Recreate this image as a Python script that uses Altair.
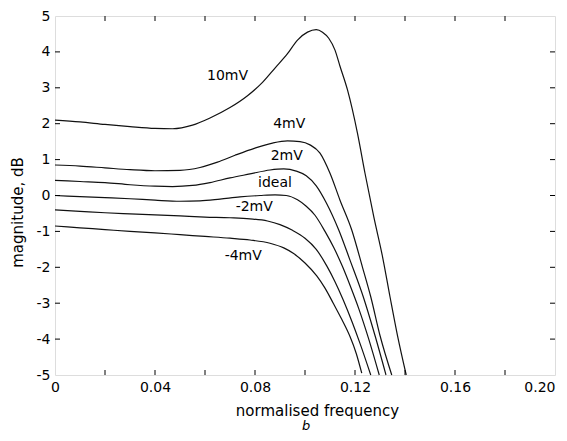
import altair as alt
import pandas as pd

# ---- data ----
x_10mV = [0, 0.01, 0.02, 0.03, 0.04, 0.047, 0.055, 0.062, 0.07, 0.077, 0.083, 0.088, 0.093, 0.097,
          0.101, 0.1045, 0.107, 0.1095, 0.112, 0.114, 0.117, 0.121, 0.124, 0.1275, 0.131, 0.134, 0.137, 0.1405]
y_10mV = [2.10, 2.05, 1.98, 1.92, 1.87, 1.86, 1.96, 2.16, 2.45, 2.78, 3.15, 3.55, 3.95, 4.33,
          4.55, 4.62, 4.55, 4.38, 4.05, 3.60, 2.94, 1.73, 0.62, -0.59, -1.70, -2.82, -3.90, -5.0]

x_4mV = [0, 0.01, 0.02, 0.03, 0.04, 0.05, 0.058, 0.065, 0.072, 0.08, 0.087, 0.093, 0.098, 0.102,
         0.106, 0.11, 0.114, 0.1187, 0.123, 0.1263, 0.13, 0.1347]
y_4mV = [0.85, 0.82, 0.77, 0.72, 0.69, 0.70, 0.78, 0.93, 1.12, 1.32, 1.46, 1.52, 1.50, 1.41,
         1.18, 0.62, -0.13, -0.96, -2.0, -2.82, -3.9, -5.0]

x_2mV = [0, 0.01, 0.02, 0.03, 0.04, 0.047, 0.055, 0.062, 0.07, 0.078, 0.086, 0.0915, 0.0965,
         0.1005, 0.1045, 0.1085, 0.1135, 0.118, 0.1233, 0.128, 0.1324]
y_2mV = [0.42, 0.39, 0.36, 0.30, 0.26, 0.25, 0.28, 0.36, 0.49, 0.60, 0.71, 0.74, 0.68,
         0.55, 0.27, -0.20, -0.96, -1.80, -2.82, -3.90, -5.0]

x_ideal = [0, 0.01, 0.02, 0.03, 0.04, 0.05, 0.058, 0.066, 0.074, 0.082, 0.088, 0.0925, 0.097,
           0.1005, 0.104, 0.108, 0.1115, 0.115, 0.118, 0.1215, 0.1255, 0.1297]
y_ideal = [0.0, -0.03, -0.06, -0.09, -0.13, -0.16, -0.15, -0.10, -0.04, 0.0, 0.02, 0.0, -0.12,
           -0.30, -0.55, -1.0, -1.45, -1.98, -2.5, -3.15, -4.0, -5.0]

x_m2mV = [0, 0.01, 0.02, 0.03, 0.04, 0.05, 0.06, 0.07, 0.078, 0.085, 0.09, 0.095, 0.1, 0.1045,
          0.1087, 0.112, 0.1153, 0.119, 0.122, 0.1263]
y_m2mV = [-0.40, -0.44, -0.48, -0.51, -0.54, -0.57, -0.60, -0.62, -0.65, -0.71, -0.81, -0.97,
          -1.19, -1.50, -1.96, -2.40, -2.91, -3.55, -4.12, -5.0]

x_m4mV = [0, 0.01, 0.02, 0.03, 0.04, 0.05, 0.06, 0.07, 0.078, 0.086, 0.0915, 0.0953, 0.1,
          0.1047, 0.108, 0.1113, 0.1147, 0.118, 0.1205, 0.1227]
y_m4mV = [-0.85, -0.90, -0.95, -1.00, -1.04, -1.09, -1.14, -1.19, -1.24, -1.33, -1.46, -1.61,
          -1.88, -2.24, -2.58, -3.0, -3.45, -3.93, -4.4, -4.95]

label_text = ["10mV", "4mV", "2mV", "ideal", "-2mV", "-4mV"]
label_x = [0.069, 0.0937, 0.0927, 0.088, 0.0797, 0.0753]
label_y = [3.33, 1.99, 1.10, 0.35, -0.33, -1.69]

x_tick_vals = [0.02, 0.04, 0.06, 0.08, 0.10, 0.12, 0.14, 0.16, 0.18]
y_tick_vals = [-4, -3, -2, -1, 0, 1, 2, 3, 4]
x_label_vals = [0, 0.04, 0.08, 0.12, 0.16, 0.20]
y_label_vals = [-5, -4, -3, -2, -1, 0, 1, 2, 3, 4, 5]
caption = ["b"]

series = [("10mV", x_10mV, y_10mV), ("4mV", x_4mV, y_4mV), ("2mV", x_2mV, y_2mV),
          ("ideal", x_ideal, y_ideal), ("-2mV", x_m2mV, y_m2mV), ("-4mV", x_m4mV, y_m4mV)]

rows = []
for name, xs, ys in series:
    for i, (a, b) in enumerate(zip(xs, ys)):
        rows.append({"series": name, "f": a, "mag": b, "ord": i})
df = pd.DataFrame(rows)
labels_df = pd.DataFrame({"text": label_text, "f": label_x, "mag": label_y})
xt_df = pd.DataFrame({"f": x_tick_vals})
yt_df = pd.DataFrame({"mag": y_tick_vals})
cap_df = pd.DataFrame({"text": caption})

FONT = "DejaVu Sans"
W, H = 500, 359

xscale = alt.Scale(domain=[0, 0.2], nice=False, zero=False)
yscale = alt.Scale(domain=[-5, 5], nice=False, zero=False)

x_axis = alt.Axis(
    title="normalised frequency", values=x_label_vals,
    labelExpr="datum.value == 0 ? '0' : format(datum.value, '.2f')",
    labelAlign={"condition": {"test": "datum.value >= 0.2", "value": "right"}, "value": "center"},
    ticks=False, domain=False, grid=False, labelFlush=False, labelOverlap=False,
    labelPadding=5, labelFontSize=14, labelFont=FONT, labelColor="#000",
    titleFont=FONT, titleFontSize=15, titleFontWeight="normal", titleColor="#000",
    titleX=262, titleY=40, titleBaseline="alphabetic")
y_axis = alt.Axis(
    title="magnitude, dB", values=y_label_vals,
    labelExpr="'' + datum.value",
    ticks=False, domain=False, grid=False, labelFlush=False, labelOverlap=False,
    labelPadding=5, labelFontSize=14, labelFont=FONT, labelColor="#000",
    titleFont=FONT, titleFontSize=15, titleFontWeight="normal", titleColor="#000",
    titleX=-30, titleY=196)

x_enc = alt.X("f:Q", scale=xscale, axis=x_axis)
y_enc = alt.Y("mag:Q", scale=yscale, axis=y_axis)

lines = alt.Chart(df).mark_line(color="#111", strokeWidth=1.2, interpolate="monotone").encode(
    x=x_enc, y=y_enc, detail="series:N", order="ord:Q")

texts = alt.Chart(labels_df).mark_text(font=FONT, fontSize=14, color="#000").encode(
    x=x_enc, y=y_enc, text="text:N")

xt_bottom = alt.Chart(xt_df).mark_rule(color="#000", strokeWidth=1).encode(
    x=x_enc, y=alt.value(H), y2=alt.value(H - 5))
xt_top = alt.Chart(xt_df).mark_rule(color="#000", strokeWidth=1).encode(
    x=x_enc, y=alt.value(0), y2=alt.value(5))
yt_left = alt.Chart(yt_df).mark_rule(color="#000", strokeWidth=1).encode(
    y=y_enc, x=alt.value(0), x2=alt.value(5))
yt_right = alt.Chart(yt_df).mark_rule(color="#000", strokeWidth=1).encode(
    y=y_enc, x=alt.value(W), x2=alt.value(W - 5))

cap = alt.Chart(cap_df).mark_text(font=FONT, fontSize=13, fontStyle="italic", color="#000",
                                  baseline="alphabetic", clip=False).encode(
    x=alt.value(W / 2 + 1), y=alt.value(H + 55), text="text:N")

chart = alt.layer(lines, texts, xt_bottom, xt_top, yt_left, yt_right, cap).properties(
    width=W, height=H,
    autosize=alt.AutoSizeParams(type="none"),
    padding={"left": 47, "top": 8, "right": 4, "bottom": 58},
).configure_view(stroke="#000", strokeWidth=1).configure_axis(
    labelOverlap=False, labelFlush=False
).configure(background="white")

chart.save("out.html", embed_options={"renderer": "svg", "actions": False})
